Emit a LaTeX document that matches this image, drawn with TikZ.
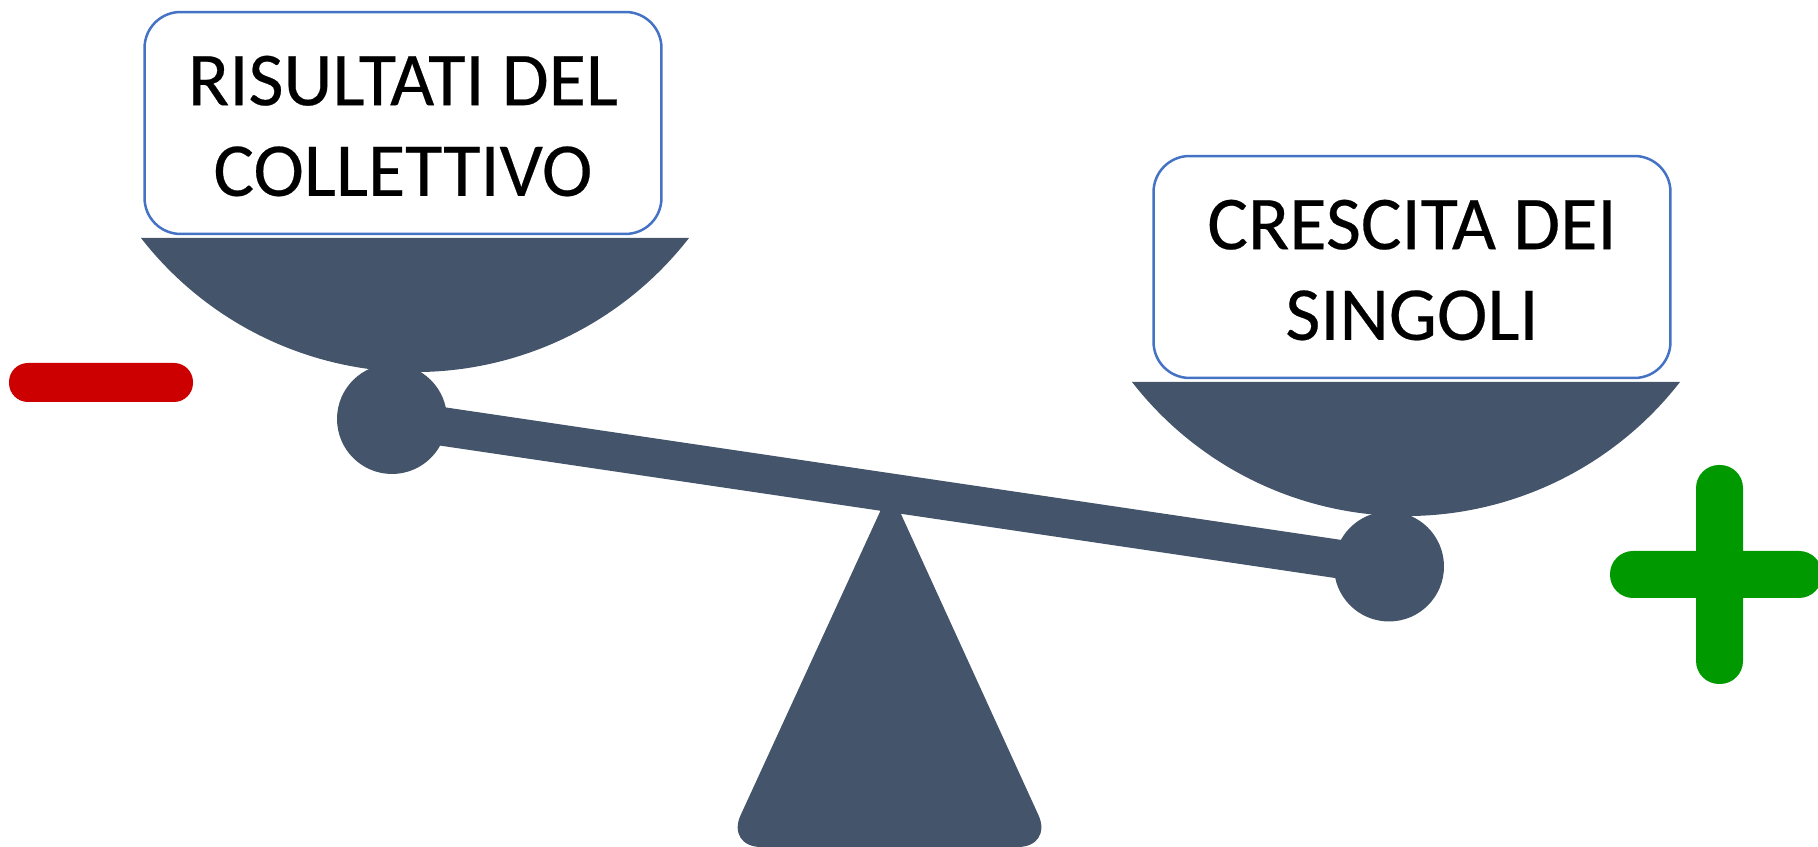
\documentclass[tikz,border=0pt]{standalone}
\usepackage{fontspec}
\setmainfont{Carlito}
\newfontfamily\panfont{Carlito}[FakeBold=0.3]
\definecolor{slate}{HTML}{44546A}
\definecolor{boxblue}{HTML}{4472C4}
\definecolor{minusred}{HTML}{CC0000}
\definecolor{plusgreen}{HTML}{009900}
\tikzset{
  panlabel/.style={draw=boxblue,line width=0.05cm,fill=white,rounded corners=0.72cm,
    minimum width=10.34cm,minimum height=4.44cm,align=center,inner sep=0pt,text depth=0pt,
    font=\panfont\fontsize{43.4}{51.6}\selectfont},
  pivot/.style={circle,fill=slate,minimum size=2.2cm,inner sep=0pt},
}
\begin{document}
\begin{tikzpicture}[x=0.02cm,y=0.02cm] % one unit is one pixel of the reference

\def\RP{347} % radius of the pans
\useasboundingbox (0,0) rectangle (1818,847);

% stand
\fill[slate] (890,357) [rounded corners=0.7cm] -- (1053,0) -- (726,0) [sharp corners] -- cycle;

% pans
\fill[slate] (141,609) arc (217.85:322.15:\RP) -- cycle;
\fill[slate] (1132,465) arc (217.85:322.15:\RP) -- cycle;

% beam with its two ends
\node[pivot] (ballL) at (392,428) {};
\node[pivot] (ballR) at (1389,280.5) {};
\draw[slate,line width=0.772cm] (ballL.center) -- (ballR.center);

% loads
\node[panlabel] (result) at (403,724) {\raisebox{-3.2pt}{RISULTATI DEL}\\\raisebox{-3.2pt}{COLLETTIVO}};
\node[panlabel] (growth) at (1412,580) {\raisebox{-3.2pt}{CRESCITA DEI}\\\raisebox{-3.2pt}{SINGOLI}};

% signs
\fill[minusred,rounded corners=0.38cm] (9,484) rectangle (193,445);
\fill[plusgreen,rounded corners=0.46cm] (1696,382) rectangle (1743,163);
\fill[plusgreen,rounded corners=0.46cm] (1610,296) rectangle (1822,249);
\end{tikzpicture}
\end{document}
